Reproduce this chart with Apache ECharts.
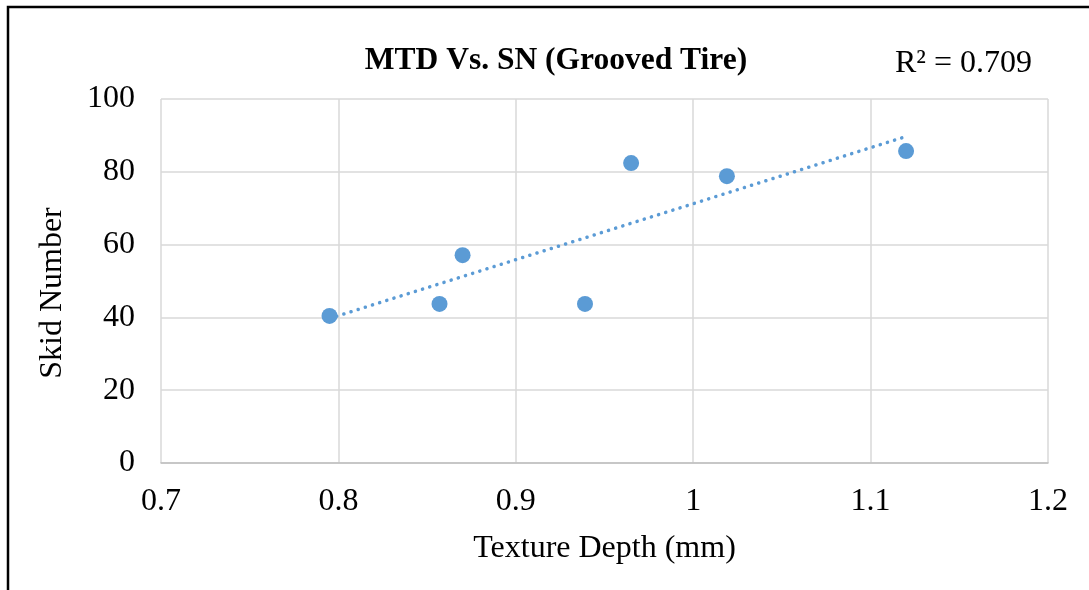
<!DOCTYPE html>
<html>
<head>
<meta charset="utf-8">
<script src="https://cdn.jsdelivr.net/npm/echarts@6/dist/echarts.min.js"></script>
<style>
html,body{margin:0;padding:0;background:#fff;}
#chart{width:1089px;height:590px;}
</style>
</head>
<body>
<div id="chart"></div>
<script>
// Data
const textureDepth = [0.795, 0.857, 0.870, 0.939, 0.965, 1.019, 1.120];
const skidNumber   = [40.4, 43.7, 57.1, 43.7, 82.4, 78.8, 85.7];
// Linear trendline endpoints (as drawn in the reference)
const trendX = [0.795, 1.120];
const trendY = [39.7, 89.7];
const xTicks = [0.7, 0.8, 0.9, 1, 1.1, 1.2];
const yTicks = [0, 20, 40, 60, 80, 100];
const titleText = 'MTD Vs. SN (Grooved Tire)';
const r2Text = 'R² = 0.709';

const points = textureDepth.map((x, i) => [x, skidNumber[i]]);
const trend = trendX.map((x, i) => [x, trendY[i]]);
const font = '"Liberation Serif", "Times New Roman", serif';

const chart = echarts.init(document.getElementById('chart'), null, {renderer: 'canvas'});
chart.setOption({
  animation: false,
  backgroundColor: '#fff',
  title: {
    text: titleText,
    left: 551, top: 40,
    textAlign: 'center',
    textStyle: {fontFamily: font, fontSize: 31.5, fontWeight: 'bold', color: '#000'}
  },
  graphic: [
    {type: 'rect', shape: {x: 8, y: 7, width: 1200, height: 700},
     style: {fill: 'none', stroke: '#000', lineWidth: 2.5}, silent: true},
    {type: 'text', left: 895, top: 48,
     style: {text: r2Text, font: '32px ' + font, fill: '#000'}}
  ],
  grid: {left: 161, right: 41, top: 99, bottom: 127, containLabel: false},
  xAxis: {
    type: 'value', min: xTicks[0], max: xTicks[xTicks.length - 1], interval: 0.1,
    name: 'Texture Depth (mm)', nameLocation: 'middle', nameGap: 70,
    nameTextStyle: {fontFamily: font, fontSize: 32, color: '#000'},
    axisLine: {show: true, lineStyle: {color: '#bfbfbf', width: 1.5}},
    axisTick: {show: false},
    axisLabel: {fontFamily: font, fontSize: 32, color: '#000', margin: 23,
      formatter: v => String(parseFloat(v.toFixed(2)))},
    splitLine: {show: true, lineStyle: {color: '#d9d9d9', width: 1.5}}
  },
  yAxis: {
    type: 'value', min: yTicks[0], max: yTicks[yTicks.length - 1], interval: 20,
    name: 'Skid Number', nameLocation: 'middle', nameGap: 92,
    nameTextStyle: {fontFamily: font, fontSize: 32, color: '#000', padding: [0, 24, 0, 0]},
    axisLine: {show: false},
    axisTick: {show: false},
    axisLabel: {fontFamily: font, fontSize: 32, color: '#000', margin: 26},
    splitLine: {show: true, lineStyle: {color: '#d9d9d9', width: 1.5}}
  },
  series: [
    {
      type: 'line', data: trend, symbol: 'none', silent: true, z: 2,
      lineStyle: {color: '#5b9bd5', width: 3.5, type: [0.1, 7.4], cap: 'round'}
    },
    {
      type: 'scatter', data: points, symbolSize: 16, z: 3,
      itemStyle: {color: '#5b9bd5', opacity: 1}
    }
  ]
});
</script>
</body>
</html>
